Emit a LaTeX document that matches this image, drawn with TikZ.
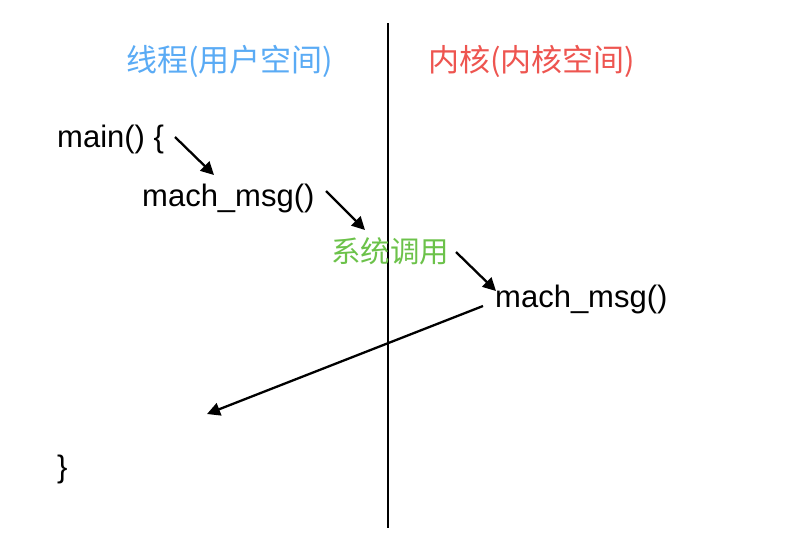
\documentclass[tikz,border=0pt]{standalone}
\usepackage{fontspec}
\setmainfont{Liberation Sans}
\newfontfamily\cjk{Noto Sans CJK SC}
\usetikzlibrary{arrows.meta}
\definecolor{userblue}{HTML}{5AABF5}
\definecolor{kernred}{HTML}{EE5550}
\definecolor{callgreen}{HTML}{6CC24A}
\tikzset{
  code/.style={inner sep=0pt, anchor=base west, font=\fontsize{31}{36}\selectfont, text=black},
  title/.style={inner sep=0pt, anchor=base west, font=\cjk\fontsize{31}{36}\selectfont},
  flow/.style={line width=2.3pt, -{Triangle[length=13pt,width=13pt]}},
}
\begin{document}
\begin{tikzpicture}[x=1pt,y=-1pt]
\useasboundingbox (0,0) rectangle (786,542);
\fill[white] (0,0) rectangle (786,542);
% divider
\coordinate (vtop) at (388,23);
\coordinate (vbot) at (388,528);
\draw[line width=2.2pt] (vtop) -- (vbot);
% titles
\node[title, text=userblue] (user) at (126,71) {线程(用户空间)};
\node[title, text=kernred] (kern) at (428,71) {内核(内核空间)};
% code
\node[code] (main) at (57,147) {main() \{};
\node[code] (msg1) at (142,206) {mach\_msg()};
\node[title, text=callgreen, font=\cjk\fontsize{29.5}{34}\selectfont] (sys) at (331,262) {系统调用};
\node[code] (msg2) at (495,307) {mach\_msg()};
\node[code] (close) at (57,477) {\}};
% arrows
\coordinate (a1s) at (175,137); \coordinate (a1e) at (214,175);
\coordinate (a2s) at (326,191); \coordinate (a2e) at (365,230);
\coordinate (a3s) at (456,252); \coordinate (a3e) at (496,291);
\coordinate (a4s) at (483,306); \coordinate (a4e) at (207,414);
\draw[flow] (a1s) -- (a1e);
\draw[flow] (a2s) -- (a2e);
\draw[flow] (a3s) -- (a3e);
\draw[flow] (a4s) -- (a4e);
\end{tikzpicture}
\end{document}
